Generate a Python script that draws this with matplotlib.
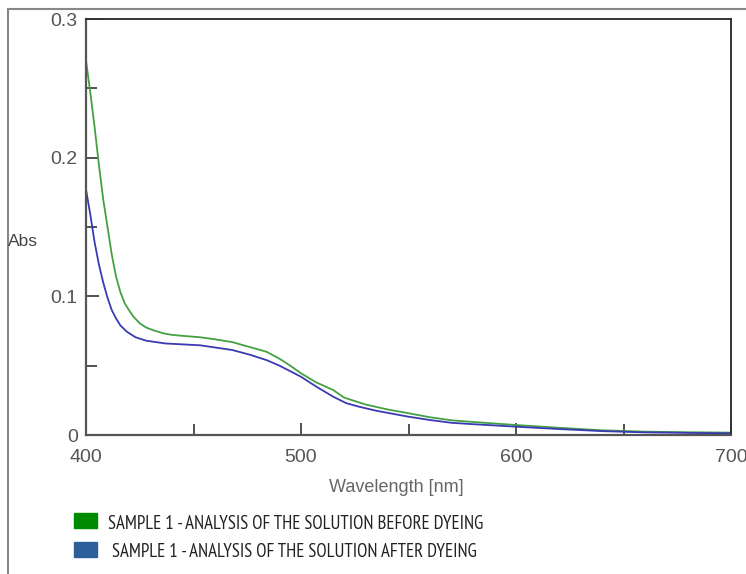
import matplotlib
matplotlib.use("Agg")
import matplotlib.pyplot as plt
from matplotlib.lines import Line2D
from matplotlib.patches import Rectangle
from matplotlib.ticker import MultipleLocator, FuncFormatter

# UV-Vis spectra of the dye bath, sample 1
wl_before = [400, 402, 404, 406, 408, 410, 412, 414, 416, 418, 420, 422, 425,
             428, 431, 436, 440, 445, 453, 460, 468, 476, 484, 490, 495, 500,
             507, 515, 520, 530, 540, 550, 560, 570, 580, 600, 620, 640, 660,
             680, 700]
abs_before = [0.270, 0.247, 0.222, 0.195, 0.170, 0.150, 0.130, 0.114, 0.103,
              0.095, 0.090, 0.0855, 0.0805, 0.0775, 0.0757, 0.0733, 0.0722,
              0.0715, 0.0705, 0.069, 0.067, 0.0635, 0.060, 0.055, 0.050,
              0.0445, 0.038, 0.0324, 0.027, 0.022, 0.0185, 0.0157, 0.0128,
              0.0106, 0.0094, 0.0072, 0.0052, 0.0034, 0.0024, 0.0020, 0.0017]
wl_after = [400, 402, 404, 406, 408, 410, 412, 414, 416, 419, 423, 428, 437,
            453, 468, 476, 484, 490, 495, 500, 507, 515, 521, 527, 535, 550,
            560, 570, 580, 600, 620, 640, 660, 680, 700]
abs_after = [0.177, 0.159, 0.139, 0.123, 0.110, 0.099, 0.090, 0.084, 0.079,
             0.0745, 0.0705, 0.068, 0.066, 0.0647, 0.0613, 0.058, 0.054,
             0.050, 0.046, 0.042, 0.035, 0.0276, 0.023, 0.0204, 0.0175,
             0.0132, 0.0108, 0.0088, 0.0078, 0.0060, 0.0043, 0.0028, 0.0019,
             0.0015, 0.0012]
legend_labels = ["SAMPLE 1 - ANALYSIS OF THE SOLUTION BEFORE DYEING",
                 "SAMPLE 1 - ANALYSIS OF THE SOLUTION AFTER DYEING"]

fig = plt.figure(figsize=(7.46, 5.74), dpi=100)
ax = fig.add_axes([86 / 746, 1 - 435 / 574, 645 / 746, 416 / 574])

ax.plot(wl_before, abs_before, color="#43a043", lw=1.3, solid_joinstyle="round")
ax.plot(wl_after, abs_after, color="#3a3ab4", lw=1.3, solid_joinstyle="round")

ax.set_xlim(400, 700)
ax.set_ylim(0, 0.3)
ax.xaxis.set_major_locator(MultipleLocator(100))
ax.xaxis.set_minor_locator(MultipleLocator(50))
ax.yaxis.set_major_locator(MultipleLocator(0.1))
ax.yaxis.set_minor_locator(MultipleLocator(0.05))
ax.yaxis.set_major_formatter(
    FuncFormatter(lambda v, pos: "0" if abs(v) < 1e-9 else f"{v:.1f}"))
ax.tick_params(which="both", direction="in", color="#333333", width=1.2,
               top=False, right=False)
ax.tick_params(which="major", length=9)
ax.tick_params(which="minor", length=8)
ax.tick_params(axis="y", pad=6)
ax.tick_params(axis="x", pad=10)
for lab in ax.get_xticklabels() + ax.get_yticklabels():
    lab.set_fontfamily("Liberation Sans")
    lab.set_fontsize(14)
    lab.set_color("#555555")
for side in ["left", "bottom"]:
    ax.spines[side].set_color("#555555")
    ax.spines[side].set_linewidth(1.6)
for side in ["top", "right"]:
    ax.spines[side].set_color("#333333")
    ax.spines[side].set_linewidth(1.4)

fig.text(8 / 746, 1 - 241 / 574, "Abs", fontsize=12.5, family="Liberation Sans",
         color="#444444", ha="left", va="center")
fig.text(396 / 746, 1 - 487 / 574, "Wavelength [nm]", fontsize=13,
         family="Liberation Sans", color="#666666", ha="center", va="center")

# outer frame around the chart
fig.add_artist(Line2D([8 / 746, 1], [1 - 9 / 574] * 2, color="#888888", lw=1.5))
fig.add_artist(Line2D([8 / 746] * 2, [0, 1 - 9 / 574], color="#888888", lw=1.5))

# legend drawn as colored boxes with captions
patch_colors = ["#008a00", "#2e5f9a"]
patch_top = [513, 542]
text_y = [524, 552]
text_x = [108, 112]
for col, top, ty, tx, label in zip(patch_colors, patch_top, text_y, text_x,
                                   legend_labels):
    fig.add_artist(Rectangle((74 / 746, 1 - (top + 15) / 574), 23 / 746, 15 / 574,
                             color=col, transform=fig.transFigure))
    fig.text(tx / 746, 1 - ty / 574, label, fontsize=13.5,
             family=["PT Sans Narrow", "DejaVu Sans"],
             color="#222222", ha="left", va="center")

fig.savefig("out.png", dpi=100)
